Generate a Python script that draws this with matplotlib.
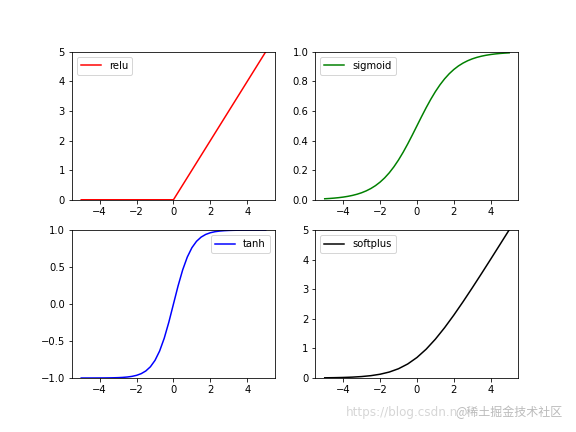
import matplotlib
matplotlib.use("Agg")
import matplotlib.pyplot as plt

# sample points
x_half = [-5.0, -4.5, -4.0, -3.5, -3.0, -2.5, -2.0, -1.5, -1.0, -0.5, 0.0,
          0.5, 1.0, 1.5, 2.0, 2.5, 3.0, 3.5, 4.0, 4.5, 5.0]
relu_y = [0, 0, 0, 0, 0, 0, 0, 0, 0, 0, 0,
          0.5, 1.0, 1.5, 2.0, 2.5, 3.0, 3.5, 4.0, 4.5, 5.0]
softplus_y = [0.0067, 0.0111, 0.0181, 0.0298, 0.0486, 0.0789, 0.1269, 0.2014,
              0.3133, 0.4741, 0.6931, 0.9741, 1.3133, 1.7014, 2.1269, 2.5789,
              3.0486, 3.5298, 4.0181, 4.5111, 5.0067]

x_q = [-5.0, -4.75, -4.5, -4.25, -4.0, -3.75, -3.5, -3.25, -3.0, -2.75, -2.5,
       -2.25, -2.0, -1.75, -1.5, -1.25, -1.0, -0.75, -0.5, -0.25, 0.0,
       0.25, 0.5, 0.75, 1.0, 1.25, 1.5, 1.75, 2.0, 2.25, 2.5,
       2.75, 3.0, 3.25, 3.5, 3.75, 4.0, 4.25, 4.5, 4.75, 5.0]
sigmoid_y = [0.0067, 0.0086, 0.0110, 0.0141, 0.0180, 0.0230, 0.0293, 0.0373,
             0.0474, 0.0601, 0.0759, 0.0953, 0.1192, 0.1480, 0.1824, 0.2227,
             0.2689, 0.3208, 0.3775, 0.4378, 0.5000,
             0.5622, 0.6225, 0.6792, 0.7311, 0.7773, 0.8176, 0.8520, 0.8808,
             0.9047, 0.9241, 0.9399, 0.9526, 0.9627, 0.9707, 0.9770, 0.9820,
             0.9859, 0.9890, 0.9914, 0.9933]
tanh_y = [-0.9999, -0.9999, -0.9998, -0.9996, -0.9993, -0.9989, -0.9982,
          -0.9970, -0.9951, -0.9919, -0.9866, -0.9780, -0.9640, -0.9414,
          -0.9051, -0.8483, -0.7616, -0.6351, -0.4621, -0.2449, 0.0,
          0.2449, 0.4621, 0.6351, 0.7616, 0.8483, 0.9051, 0.9414, 0.9640,
          0.9780, 0.9866, 0.9919, 0.9951, 0.9970, 0.9982, 0.9989, 0.9993,
          0.9996, 0.9998, 0.9999, 0.9999]

fig = plt.figure(figsize=(8, 6), dpi=72)
fig.subplots_adjust(left=0.125, right=0.9, top=0.88, bottom=0.125, hspace=0.205)

ax1 = fig.add_subplot(221)
ax1.plot(x_half, relu_y, c='red', label='relu')
ax1.set_ylim((0, 5))
ax1.legend(loc='upper left')

ax2 = fig.add_subplot(222)
ax2.plot(x_q, sigmoid_y, c='green', label='sigmoid')
ax2.set_ylim((0, 1))
ax2.legend(loc='upper left')

ax3 = fig.add_subplot(223)
ax3.plot(x_q, tanh_y, c='blue', label='tanh')
ax3.set_ylim((-1, 1))
ax3.legend(loc='upper right')

ax4 = fig.add_subplot(224)
ax4.plot(x_half, softplus_y, c='black', label='softplus')
ax4.set_ylim((0, 5))
ax4.legend(loc='upper left')

fig.text(0.795, 0.045, 'https://blog.csdn.n', ha='right', va='center',
         fontsize=12, color='#cccccc', alpha=0.8)
fig.text(0.79, 0.045, '@稀土掘金技术社区', ha='left', va='center',
         fontsize=12, color='#aaaaaa', alpha=0.8,
         family=['Noto Sans CJK SC', 'DejaVu Sans'])

fig.savefig('out.png', dpi=72)
